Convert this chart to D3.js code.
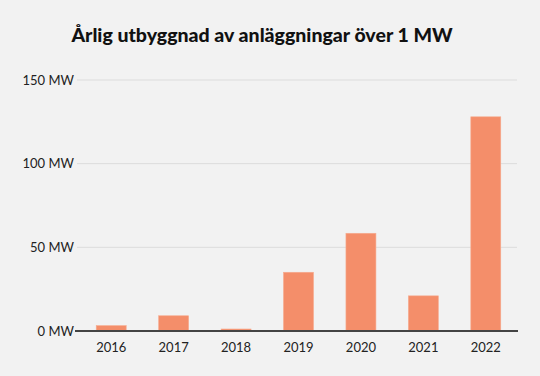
<!DOCTYPE html>
<html>
<head>
<meta charset="utf-8">
<script src="https://cdn.jsdelivr.net/npm/d3@7"></script>
<style>
  body { margin: 0; background: #f2f2f2; }
  text { font-family: "Lato", "Noto Sans", sans-serif; }
</style>
</head>
<body>
<script>
// data
var years = ["2016", "2017", "2018", "2019", "2020", "2021", "2022"];
var mw = [3.2, 9.1, 1.2, 35.1, 58.4, 21, 128];
var yTicks = [0, 50, 100, 150];

var width = 540;
var height = 376;

var svg = d3.select("body")
    .append("svg")
        .attr("width", width)
        .attr("height", height);

svg.append("rect")
    .attr("width", width)
    .attr("height", height)
    .attr("fill", "#f2f2f2");

svg.append("text")
    .attr("x", 262)
    .attr("y", 42)
    .attr("text-anchor", "middle")
    .attr("font-size", "19.5px")
    .attr("font-weight", 900)
    .style("fill", "#111")
    .text("Årlig utbyggnad av anläggningar över 1 MW");

var x = d3.scaleBand()
    .domain(years)
    .range([80, 517])
    .paddingInner(0.52)
    .paddingOuter(0.26);

var y = d3.scaleLinear()
    .domain([0, 150])
    .range([331, 80]);

// grid lines
svg.append("g")
    .selectAll("line")
    .data(yTicks.filter(function(d) { return d > 0; }))
    .enter()
    .append("line")
        .attr("x1", 77)
        .attr("x2", 517)
        .attr("y1", function(d) { return y(d); })
        .attr("y2", function(d) { return y(d); })
        .attr("stroke", "#dcdcdc")
        .attr("stroke-width", 1);

var leftAxis = d3.axisLeft(y)
    .tickValues(yTicks)
    .tickSize(0)
    .tickPadding(2)
    .tickFormat(function(d) { return d + " MW"; });

var gy = svg.append("g")
    .attr("transform", "translate(76, 0)")
    .call(leftAxis);
gy.select(".domain").remove();
gy.selectAll("text")
    .attr("font-size", "13px")
    .style("fill", "#222");

svg.append("g")
    .selectAll("rect")
    .data(mw)
    .enter()
    .append("rect")
        .attr("x", function(d, i) { return x(years[i]); })
        .attr("y", function(d) { return y(d); })
        .attr("width", x.bandwidth())
        .attr("height", function(d) { return y(0) - y(d); })
        .attr("fill", "#f48e6a")
        .attr("stroke", "#f7ab8f")
        .attr("stroke-width", 0.6);

var bottomAxis = d3.axisBottom(x)
    .tickSize(0)
    .tickPadding(12);

var gx = svg.append("g")
    .attr("transform", "translate(0, " + y(0) + ")")
    .call(bottomAxis);
gx.select(".domain")
    .attr("d", "M75,0H518")
    .attr("stroke", "#444")
    .attr("stroke-width", 2);
gx.selectAll("text")
    .attr("font-size", "13px")
    .style("fill", "#222");
</script>
</body>
</html>
